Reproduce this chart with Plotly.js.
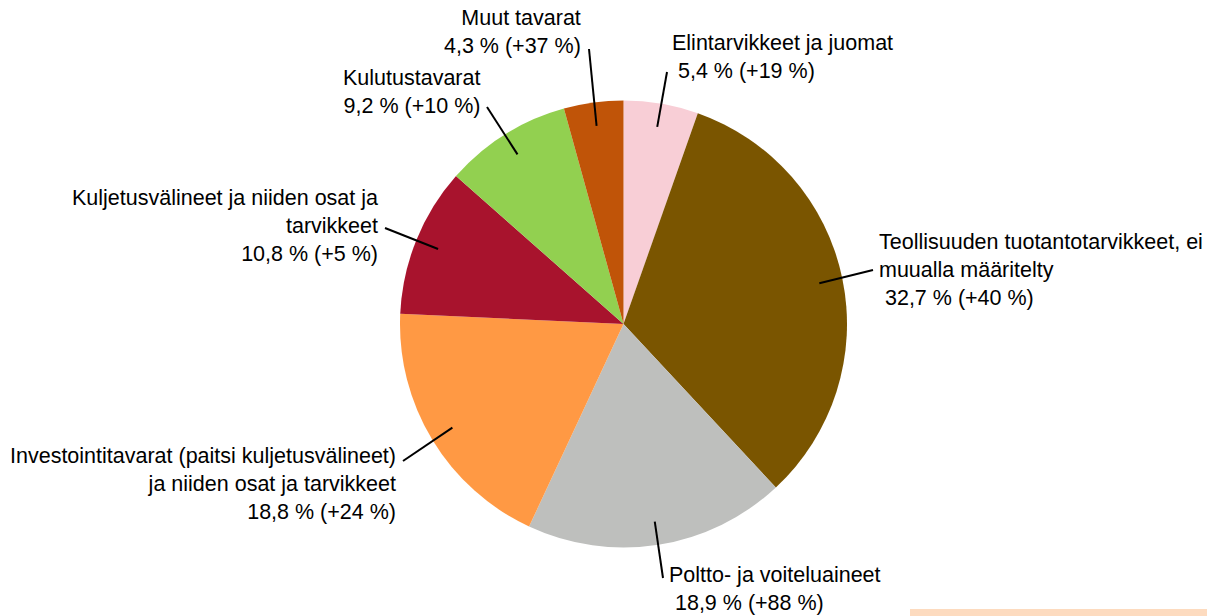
<!DOCTYPE html>
<html>
<head>
<meta charset="utf-8">
<script src="https://cdn.plot.ly/plotly-3.0.1.min.js"></script>
<style>
  html, body { margin: 0; padding: 0; background: #fff; }
  #chart { width: 1207px; height: 616px; }
</style>
</head>
<body>
<div id="chart"></div>
<script>
// ---- Data ----
const categories = [
  'Elintarvikkeet ja juomat',
  'Teollisuuden tuotantotarvikkeet, ei muualla määritelty',
  'Poltto- ja voiteluaineet',
  'Investointitavarat (paitsi kuljetusvälineet) ja niiden osat ja tarvikkeet',
  'Kuljetusvälineet ja niiden osat ja tarvikkeet',
  'Kulutustavarat',
  'Muut tavarat'
];
const shares = [5.4, 32.7, 18.9, 18.8, 10.8, 9.2, 4.3];
const changes = ['+19 %', '+40 %', '+88 %', '+24 %', '+5 %', '+10 %', '+37 %'];
const labelLines = [
  ['Elintarvikkeet ja juomat'],
  ['Teollisuuden tuotantotarvikkeet, ei', 'muualla määritelty'],
  ['Poltto- ja voiteluaineet'],
  ['Investointitavarat (paitsi kuljetusvälineet)', 'ja niiden osat ja tarvikkeet'],
  ['Kuljetusvälineet ja niiden osat ja', 'tarvikkeet'],
  ['Kulutustavarat'],
  ['Muut tavarat']
];
const colors = ['#F8CED6', '#7A5500', '#BEBFBD', '#FF9944', '#A8132D', '#92D050', '#C05408'];

// ---- Layout (pixels) ----
const W = 1207, H = 616;
const cx = 623.5, cy = 324, R = 223.5;
const labelPos = [
  {x: 670, y: 57,  anchor: 'left',  lead: true,  end: [667, 72]},
  {x: 877, y: 270, anchor: 'left',  lead: true,  end: [873, 270]},
  {x: 667, y: 589, anchor: 'left',  lead: true,  end: [663, 578]},
  {x: 398, y: 484, anchor: 'right', lead: false, end: [403, 461]},
  {x: 380, y: 226, anchor: 'right', lead: false, end: [385, 228]},
  {x: 482, y: 92,  anchor: 'right', lead: false, end: [487, 107]},
  {x: 583, y: 32,  anchor: 'right', lead: false, end: [589, 49]}
];
const px = v => v / W;
const py = v => 1 - v / H;
const fmt = v => v.toFixed(1).replace('.', ',') + ' %';

const total = shares.reduce((a, b) => a + b, 0);
const annotations = [];
const shapes = [];
let cum = 0;
shares.forEach((v, i) => {
  const mid = (cum + v / 2) / total * 2 * Math.PI;
  cum += v;
  const r = 0.895 * R;
  const ix = cx + r * Math.sin(mid);
  const iy = cy - r * Math.cos(mid);
  const p = labelPos[i];
  const valueLine = (p.lead ? '\u00a0' : '') + fmt(v) + ' (' + changes[i] + ')';
  annotations.push({
    xref: 'paper', yref: 'paper',
    x: px(p.x), y: py(p.y),
    xanchor: p.anchor, yanchor: 'middle', align: p.anchor,
    showarrow: false,
    text: labelLines[i].concat([valueLine]).join('<br>'),
    font: {family: 'Liberation Sans, Arial, sans-serif', size: 21.5, color: '#000'}
  });
  shapes.push({
    type: 'line', xref: 'paper', yref: 'paper',
    x0: px(p.end[0]), y0: py(p.end[1]), x1: px(ix), y1: py(iy),
    line: {color: '#000', width: 2}
  });
});

// decorative strip at bottom right
shapes.push({
  type: 'rect', xref: 'paper', yref: 'paper',
  x0: px(910), x1: px(1207), y0: py(616), y1: py(609),
  fillcolor: '#FDDBBF', line: {width: 0}, layer: 'below'
});

const trace = {
  type: 'pie',
  labels: categories,
  values: shares,
  sort: false,
  direction: 'clockwise',
  rotation: 0,
  textinfo: 'none',
  hoverinfo: 'label+percent',
  marker: {colors: colors, line: {width: 0}},
  domain: {x: [px(cx - R), px(cx + R)], y: [py(cy + R), py(cy - R)]},
  showlegend: false
};

Plotly.newPlot('chart', [trace], {
  width: W, height: H,
  margin: {l: 0, r: 0, t: 0, b: 0},
  paper_bgcolor: '#fff',
  showlegend: false,
  annotations: annotations,
  shapes: shapes
}, {displayModeBar: false, staticPlot: true});
</script>
</body>
</html>
